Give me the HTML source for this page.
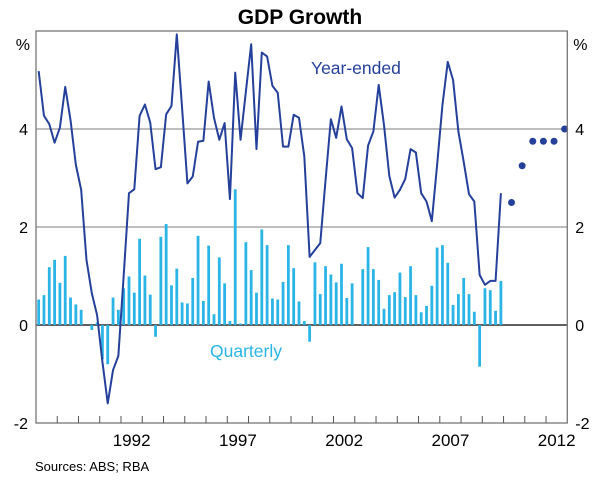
<!DOCTYPE html>
<html><head><meta charset="utf-8"><style>
html,body{margin:0;padding:0;background:#fff;}
svg{display:block;font-family:"Liberation Sans",Arial,sans-serif;}
</style></head><body>
<svg id="chart" width="600" height="481" viewBox="0 0 600 481" xmlns="http://www.w3.org/2000/svg">
<text x="300" y="24" text-anchor="middle" font-size="21" font-weight="bold">GDP Growth</text>
<g id="grid"></g>
<g id="bars"></g>
<g id="line"></g>
<g id="frame"></g>
<g id="labels"></g>
<text x="311" y="74" font-size="17.5" fill="#25409a">Year-ended</text>
<text x="210" y="357" font-size="17.5" fill="#2bb5e6">Quarterly</text>
<text x="35" y="471" font-size="13">Sources: ABS; RBA</text>
</svg>
<script>
const quarterly = [0.52,0.61,1.18,1.33,0.86,1.41,0.56,0.42,0.31,0.0,-0.10,0.05,-0.7,-0.8,0.56,0.31,0.75,0.99,0.66,1.76,1.01,0.62,-0.24,1.80,2.06,0.81,1.15,0.46,0.44,0.96,1.82,0.49,1.62,0.22,1.38,0.85,0.08,2.77,0.03,1.69,1.12,0.66,1.95,1.63,0.54,0.52,0.88,1.63,1.16,0.48,0.08,-0.34,1.28,0.63,1.20,1.03,0.87,1.25,0.55,0.85,0.0,1.14,1.59,1.14,0.92,0.33,0.61,0.67,1.07,0.57,1.20,0.61,0.26,0.39,0.80,1.58,1.63,1.27,0.41,0.63,0.96,0.63,0.27,-0.85,0.75,0.71,0.29,0.90];
const yearEnded = [5.18,4.27,4.10,3.72,4.03,4.86,4.18,3.27,2.76,1.33,0.65,0.20,-0.75,-1.60,-0.92,-0.63,1.0,2.69,2.77,4.27,4.50,4.13,3.18,3.22,4.30,4.47,5.93,4.42,2.89,3.03,3.74,3.76,4.97,4.23,3.78,4.12,2.57,5.15,3.78,4.76,5.73,3.59,5.56,5.48,4.88,4.74,3.64,3.64,4.29,4.23,3.44,1.39,1.53,1.67,2.96,4.20,3.82,4.46,3.79,3.61,2.69,2.59,3.66,3.95,4.90,4.08,3.04,2.60,2.76,2.98,3.59,3.52,2.69,2.52,2.12,3.27,4.49,5.37,5.0,3.95,3.33,2.67,2.52,1.02,0.82,0.90,0.90,2.69];
const forecastIdx = [89,91,93,95,97,99];
const forecastVals = [2.5,3.25,3.75,3.75,3.75,4.0];
const yTicks = [-2,0,2,4];
const yearLabels = [1992,1997,2002,2007,2012];

const NS="http://www.w3.org/2000/svg";
const X0=36,X1=567.3,Y0=31,Y1=423,startYear=1988,endYear=2013,yMin=-2,yMax=6;
const pxYear=(X1-X0)/(endYear-startYear);
function xYear(y){return X0+(y-startYear)*pxYear;}
function xQ(i){return xYear(startYear+(i+0.5)/4);}
function yV(v){return Y1-(v-yMin)/(yMax-yMin)*(Y1-Y0);}
function mk(tag,attrs,parent){const e=document.createElementNS(NS,tag);for(const k in attrs)e.setAttribute(k,attrs[k]);parent.appendChild(e);return e;}
const g=id=>document.getElementById(id);

[2,4].forEach(v=>{const l=mk('line',{x1:X0,x2:X1,y1:yV(v),y2:yV(v),stroke:'#a8a8a8','stroke-width':1.5},g('grid'));

});
quarterly.forEach((v,i)=>{const y0=yV(0),y=yV(v);const r=mk('rect',{x:xQ(i)-1.4,width:2.8,y:Math.min(y,y0),height:Math.abs(y-y0),fill:'#2bb5e6'},g('bars'));

});
const z=mk('line',{x1:X0,x2:X1,y1:yV(0),y2:yV(0),stroke:'#000','stroke-width':1.3},g('grid'));


const pts=yearEnded.map((v,i)=>xQ(i).toFixed(2)+','+yV(v).toFixed(2)).join(' ');
const pl=mk('polyline',{points:pts,fill:'none',stroke:'#25409a','stroke-width':2,'stroke-linejoin':'round'},g('line'));


forecastIdx.forEach((idx,k)=>{const c=mk('circle',{cx:xQ(idx),cy:yV(forecastVals[k]),r:3.5,fill:'#25409a'},g('line'));

});
const fr=mk('rect',{x:X0,y:Y0,width:X1-X0,height:Y1-Y0,fill:'none',stroke:'#777','stroke-width':1.3},g('frame'));


for(let yr=startYear+1;yr<endYear;yr++){const t=mk('line',{x1:xYear(yr),x2:xYear(yr),y1:Y1,y2:Y1-7,stroke:'#555','stroke-width':1},g('frame'));

}
yearLabels.forEach(yr=>{const t=mk('text',{x:xYear(yr+0.5),y:Y1+23,'text-anchor':'middle','font-size':17},g('labels'));t.textContent=yr;

});
yTicks.forEach(v=>{
 const a=mk('text',{x:X0-8,y:yV(v)+6,'text-anchor':'end','font-size':16},g('labels'));a.textContent=v;
 
 
 const b=mk('text',{x:X1+8,y:yV(v)+6,'text-anchor':'start','font-size':16},g('labels'));b.textContent=v;
 
 
});
const p1=mk('text',{x:X0-6,y:50,'text-anchor':'end','font-size':16},g('labels'));p1.textContent='%';


const p2=mk('text',{x:X1+6,y:50,'text-anchor':'start','font-size':16},g('labels'));p2.textContent='%';


</script>
</body></html>
